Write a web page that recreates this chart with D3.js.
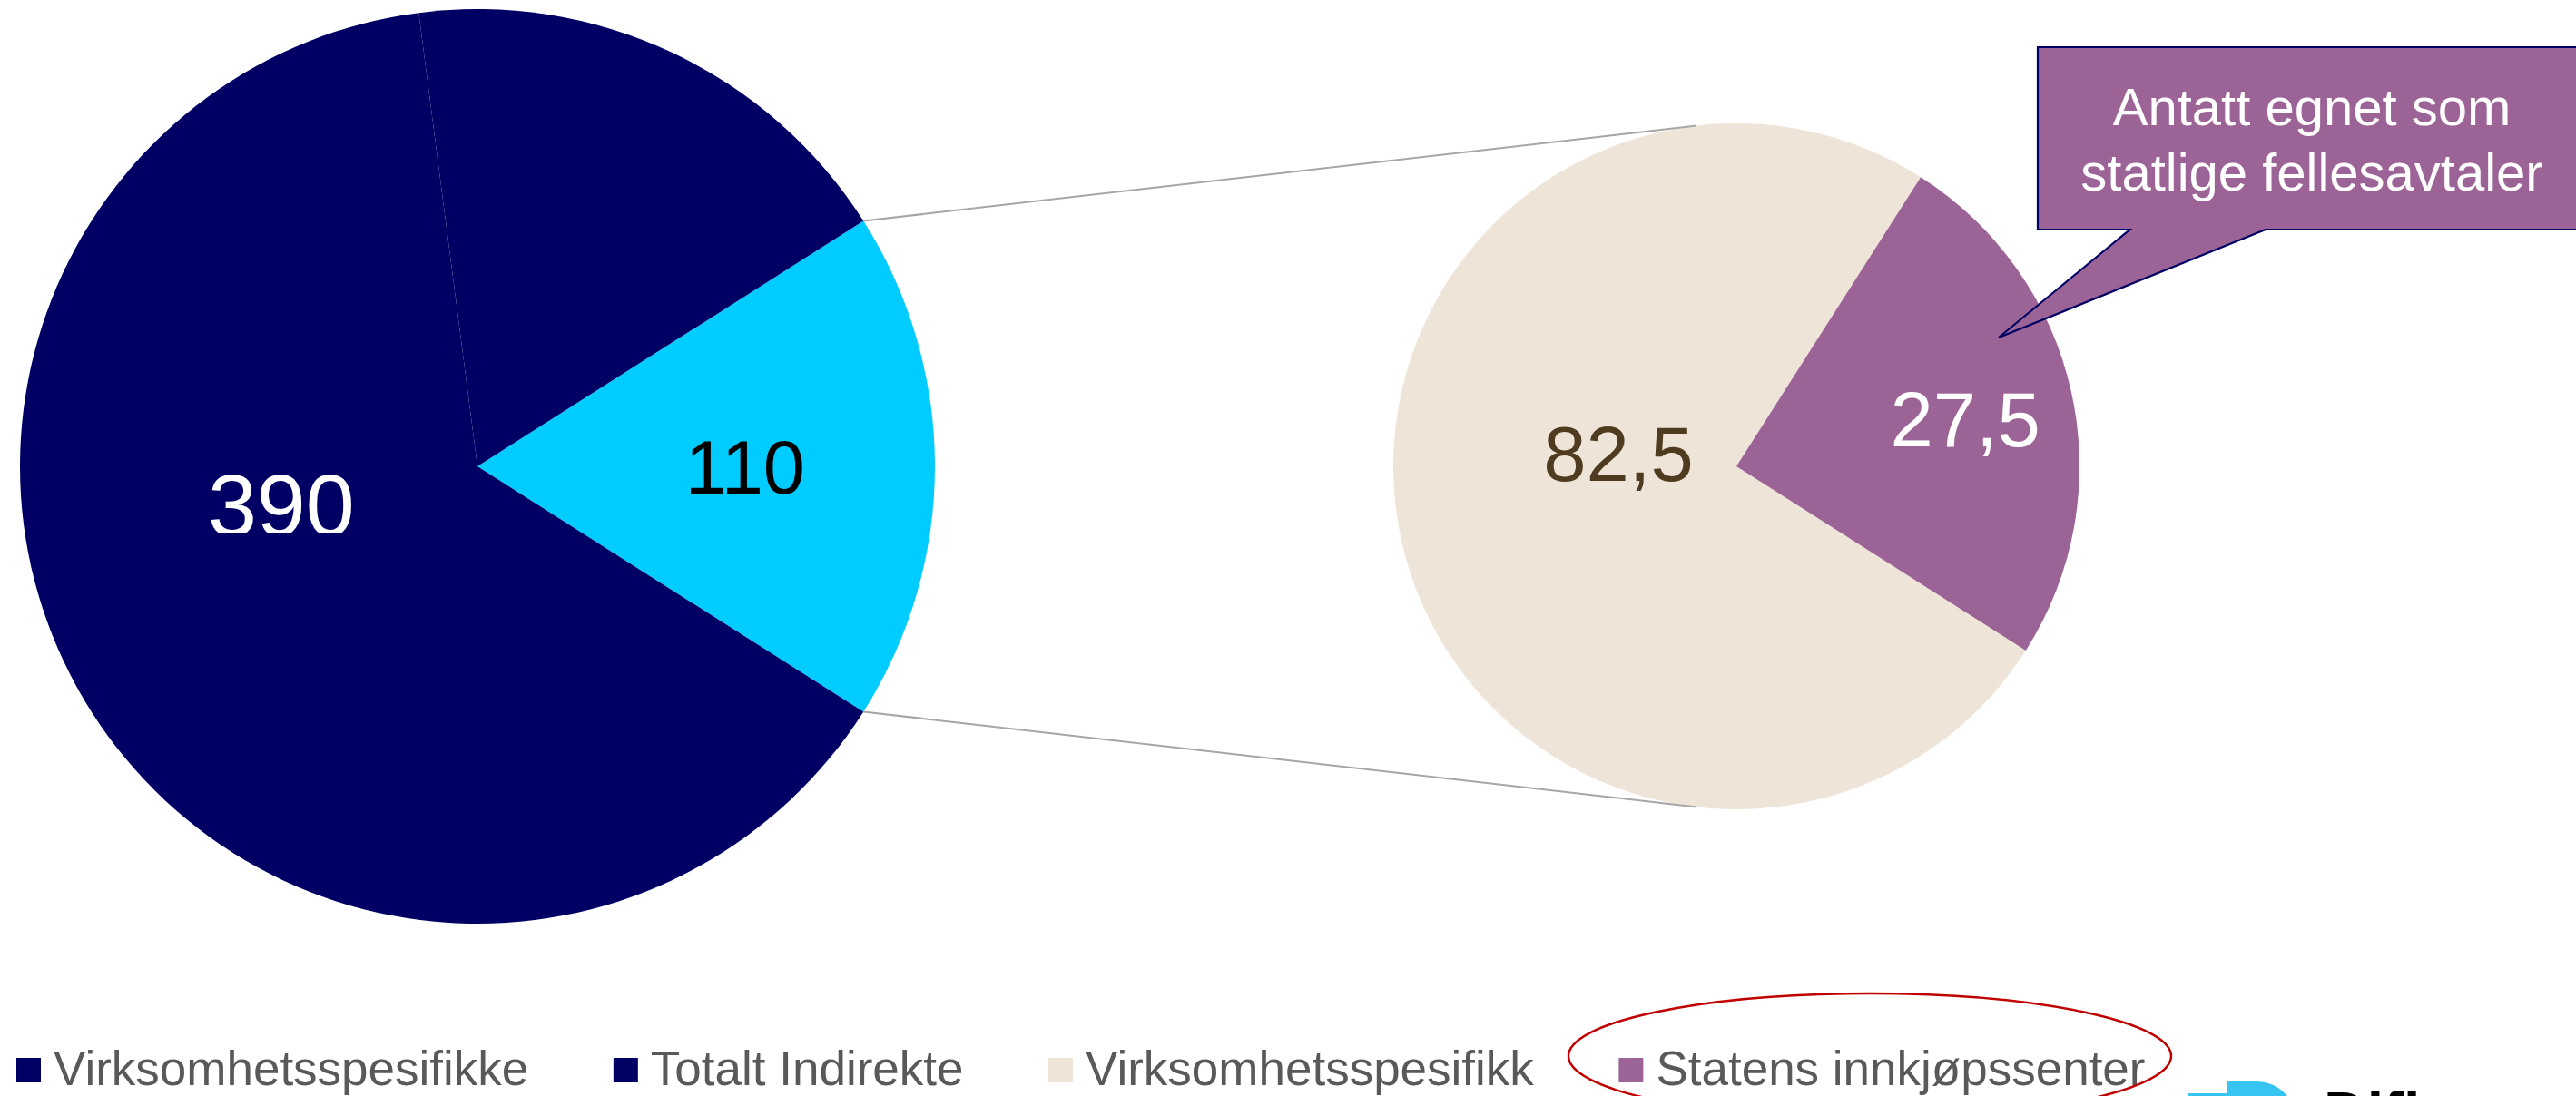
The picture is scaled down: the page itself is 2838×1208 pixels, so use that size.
<!DOCTYPE html>
<html>
<head>
<meta charset="utf-8">
<script src="https://cdn.jsdelivr.net/npm/d3@7"></script>
<style>
  html, body { margin: 0; padding: 0; background: #ffffff; }
  svg { display: block; }
  text { font-family: "Liberation Sans", Arial, sans-serif; }
</style>
</head>
<body>
<div id="chart"></div>
<script>
// ---------- data ----------
const mainCategories = ["Andre (Totalt Indirekte)", "Virksomhetsspesifikke", "Totalt Indirekte"];
const mainValues = [110, 390, 110];
const mainLabels = ["110", "390", ""];
const subCategories = ["Virksomhetsspesifikk", "Statens innkjøpssenter"];
const subValues = [82.5, 27.5];
const subLabels = ["82,5", "27,5"];
const legendLabels = ["Virksomhetsspesifikke", "Totalt Indirekte", "Virksomhetsspesifikk", "Statens innkjøpssenter"];
const calloutLines = ["Antatt egnet som", "statlige fellesavtaler"];
const logoText = "Difi";

// ---------- style ----------
const mainColors = ["#00ccff", "#000064", "#000064"];
const mainLabelColors = ["#000000", "#ffffff", "#000064"];
const subColors = ["#eee5d8", "#9c6496"];
const subLabelColors = ["#4f3b20", "#ffffff"];
const legendColors = ["#000064", "#000064", "#eee5d8", "#9c6496"];

const W = 2838, H = 1208;
const svg = d3.select("#chart").append("svg").attr("width", W).attr("height", H);

const deg = Math.PI / 180;

// ---------- main pie ----------
const L = { cx: 526, cy: 514, r: 504 };
const mainTotal = d3.sum(mainValues);
const otherSpan = mainValues[0] / mainTotal * 2 * Math.PI;
const mainPie = d3.pie().sort(null).value(d => d)
  .startAngle(Math.PI / 2 - otherSpan / 2)
  .endAngle(Math.PI / 2 - otherSpan / 2 + 2 * Math.PI);
const mainArcs = mainPie(mainValues);
const arcL = d3.arc().innerRadius(0).outerRadius(L.r);

const gL = svg.append("g").attr("transform", `translate(${L.cx},${L.cy})`);
gL.selectAll("path").data(mainArcs).join("path")
  .attr("d", arcL).attr("fill", (d, i) => mainColors[i]);

// ---------- sub pie ----------
const R = { cx: 1913, cy: 514, r: 378 };
const subPie = d3.pie().sort(null).value(d => d)
  .startAngle(122.5 * deg).endAngle(122.5 * deg + 2 * Math.PI);
const subArcs = subPie(subValues);
const arcR = d3.arc().innerRadius(0).outerRadius(R.r);
const gR = svg.append("g").attr("transform", `translate(${R.cx},${R.cy})`);
gR.selectAll("path").data(subArcs).join("path")
  .attr("d", arcR).attr("fill", (d, i) => subColors[i]);

// ---------- connector lines ----------
function pt(c, a, r) { return [c.cx + r * Math.sin(a), c.cy - r * Math.cos(a)]; }
const other = mainArcs[0];
const delta = Math.asin(44 / R.r);
const conns = [
  [pt(L, other.startAngle, L.r), pt(R, -delta, R.r)],
  [pt(L, other.endAngle, L.r), pt(R, Math.PI + delta, R.r)]
];
svg.append("g").selectAll("line").data(conns).join("line")
  .attr("x1", d => d[0][0]).attr("y1", d => d[0][1])
  .attr("x2", d => d[1][0]).attr("y2", d => d[1][1])
  .attr("stroke", "#a6a6a6").attr("stroke-width", 2);

// ---------- labels ----------
// offsets as fraction of radius (x,y of text vertical centre)
const mainLabelPos = [[0.585, 0.0], [-0.429, 0.081], [0, -0.5]];
const mainLabelSize = [83, 97, 83];
svg.append("defs").append("clipPath").attr("id", "clip390")
  .append("rect").attr("x", 0).attr("y", 0).attr("width", W).attr("height", 587);
gL.selectAll("text.lbl").data(mainArcs).join("text")
  .attr("class", "lbl")
  .attr("x", (d, i) => mainLabelPos[i][0] * L.r)
  .attr("y", (d, i) => mainLabelPos[i][1] * L.r + mainLabelSize[i] * 0.358)
  .attr("text-anchor", "middle")
  .attr("font-size", (d, i) => mainLabelSize[i])
  .attr("fill", (d, i) => mainLabelColors[i])
  .attr("clip-path", (d, i) => i === 1 ? "url(#clip390b)" : null)
  .text((d, i) => mainLabels[i]);
// clip in local coords for "390"
svg.select("defs").append("clipPath").attr("id", "clip390b")
  .append("rect").attr("x", -L.cx).attr("y", -L.cy).attr("width", W).attr("height", 587);

const subLabelPos = [[-0.344, -0.037], [0.667, -0.138]];
gR.selectAll("text.lbl").data(subArcs).join("text")
  .attr("class", "lbl")
  .attr("x", (d, i) => subLabelPos[i][0] * R.r)
  .attr("y", (d, i) => subLabelPos[i][1] * R.r + 85 * 0.358)
  .attr("text-anchor", "middle")
  .attr("font-size", 85)
  .attr("fill", (d, i) => subLabelColors[i])
  .text((d, i) => subLabels[i]);

// ---------- callout ----------
const co = { left: 2245, top: 52, bottom: 253, right: 2870, b1: 2346.5, b2: 2496, tipX: 2202, tipY: 372 };
svg.append("path")
  .attr("d", `M${co.left},${co.top} H${co.right} V${co.bottom} H${co.b2} L${co.tipX},${co.tipY} L${co.b1},${co.bottom} H${co.left} Z`)
  .attr("fill", "#9c6496").attr("stroke", "#000064").attr("stroke-width", 2.2)
  .attr("stroke-linejoin", "miter");
svg.append("g").selectAll("text").data(calloutLines).join("text")
  .attr("x", 2547).attr("y", (d, i) => 138 + i * 72)
  .attr("text-anchor", "middle").attr("font-size", 58).attr("fill", "#ffffff")
  .text(d => d);

// ---------- legend ----------
const lg = svg.append("g").attr("transform", "translate(18,1196)");
let lx = 0;
legendLabels.forEach((lab, i) => {
  lg.append("rect").attr("x", lx).attr("y", -30).attr("width", 27).attr("height", 27)
    .attr("fill", legendColors[i]);
  const t = lg.append("text").attr("x", lx + 41).attr("y", 0)
    .attr("font-size", 53).attr("fill", "#595959").text(lab);
  lx += 41 + t.node().getComputedTextLength() + 93.5;
});

// red highlight ellipse
svg.append("ellipse").attr("cx", 2060).attr("cy", 1164).attr("rx", 332).attr("ry", 69)
  .attr("fill", "none").attr("stroke", "#c00000").attr("stroke-width", 2.5);

// ---------- logo (partially visible) ----------
svg.append("path")
  .attr("d", "M2411,1205 H2453 V1192 H2486 A44 44 0 0 1 2530 1236 V1260 H2411 Z")
  .attr("fill", "#35c5f0");
svg.append("text").attr("x", 2560).attr("y", 1250)
  .attr("font-size", 66).attr("font-weight", "bold").attr("fill", "#000000")
  .text(logoText);
</script>
</body>
</html>
